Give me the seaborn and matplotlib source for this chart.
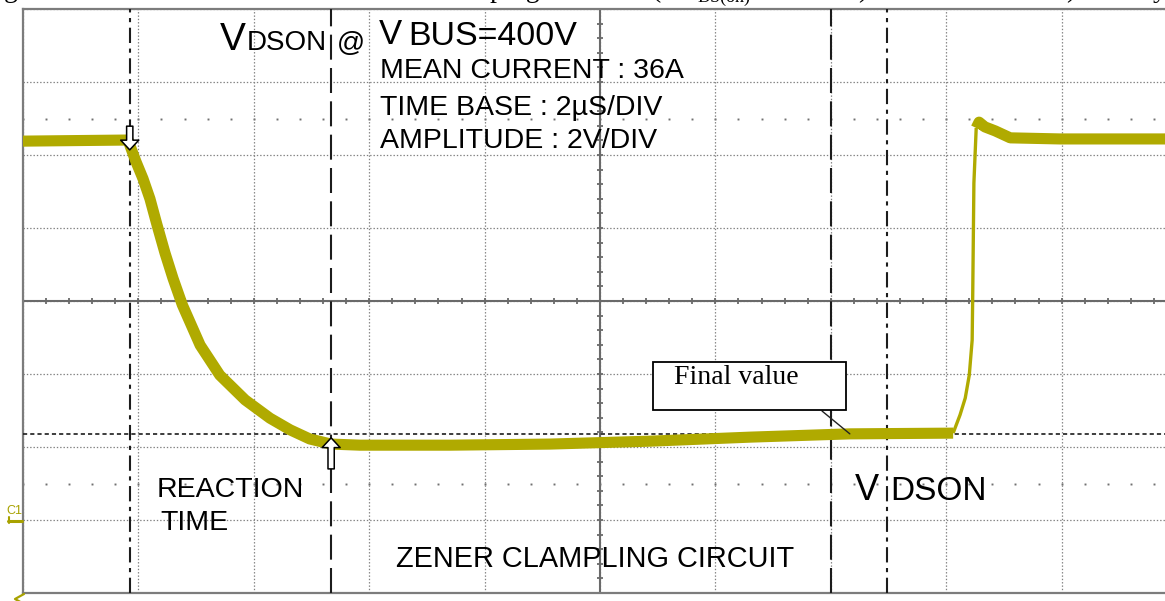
import numpy as np
import pandas as pd
import seaborn as sns
import matplotlib
matplotlib.use("Agg")
import matplotlib.pyplot as plt
from matplotlib.patches import Rectangle
from matplotlib.lines import Line2D

# Channel 1 capture of V_DS(on): time in microseconds, drain-source voltage in volts
time_us = [0.00, 1.82, 1.87, 1.96, 2.08, 2.20, 2.32, 2.46, 2.60, 2.76, 3.07, 3.41,
           3.85, 4.28, 4.63, 4.97, 5.34, 5.84, 7.40, 9.13, 10.87, 12.60, 14.33,
           16.12, 16.24, 16.33, 16.40, 16.45, 16.46, 16.48, 16.52, 16.57, 16.67,
           16.85, 17.11, 17.97, 19.99]
vds_volts = [10.38, 10.41, 10.19, 9.81, 9.35, 8.80, 8.10, 7.32, 6.62, 5.90, 4.79, 3.97,
             3.29, 2.79, 2.47, 2.22, 2.08, 2.05, 2.05, 2.08, 2.16, 2.27, 2.36,
             2.38, 2.88, 3.34, 3.97, 4.93, 6.22, 9.23, 10.74, 10.90, 10.77,
             10.66, 10.47, 10.44, 10.44]

# Switching edge of the turn-on transition (drawn thinner, as the scope does)
rise_start_us = 16.12
rise_end_us = 16.52

# Cursor positions and the measured final value
cursor_dashdot_us = [1.85, 14.97]
cursor_dash_us = [5.34, 14.00]
final_value_v = 2.36
final_value_at_us = 14.33

# Scope scale settings
time_per_div_us = 2.0
volts_per_div = 2.0
n_xdiv, n_ydiv = 10, 8
ground_div = -3  # channel 1 ground marker, divisions below centre

settings_text = ["MEAN CURRENT : 36A", "TIME BASE : 2\u00b5S/DIV", "AMPLITUDE : 2V/DIV"]

sns.set_style("white")
plt.rcParams["font.family"] = ["Liberation Sans", "DejaVu Sans"]
plt.rcParams["lines.scale_dashes"] = False

W, H = 1165, 601
fig = plt.figure(figsize=(W / 100, H / 100), dpi=100)
fig.patch.set_facecolor("white")


def fx(x):
    return x / W


def fy(y):
    return 1 - y / H


ax = fig.add_axes([23 / W, 8 / H, 1154 / W, 584 / H])
x_max = n_xdiv * time_per_div_us
y_min = -(n_ydiv / 2 + ground_div) * volts_per_div
y_max = y_min + n_ydiv * volts_per_div
ax.set_xlim(0, x_max)
ax.set_ylim(y_min, y_max)
x_mid = x_max / 2
y_mid = (y_min + y_max) / 2

# Graticule
ax.set_xticks(np.arange(0, x_max + 0.01, time_per_div_us))
ax.set_yticks(np.arange(y_min, y_max + 0.01, volts_per_div))
ax.tick_params(length=0, labelbottom=False, labelleft=False)
ax.grid(True, color="#808080", linestyle=(0, (1, 1.4)), linewidth=0.9)
for side in ["left", "bottom", "top"]:
    ax.spines[side].set_color("#7c7c7c")
    ax.spines[side].set_linewidth(1.6)
ax.spines["right"].set_visible(False)

ax.axvline(x_mid, color="#6a6a6a", lw=1.5, zorder=2)
ax.axhline(y_mid, color="#6a6a6a", lw=1.5, zorder=2)
minor_x = np.arange(0, x_max + 0.01, time_per_div_us / 5)
minor_y = np.arange(y_min, y_max + 0.01, volts_per_div / 5)
ax.plot(minor_x, np.full_like(minor_x, y_mid), ls="", marker="|", ms=5, mew=1.3,
        color="#6a6a6a", zorder=2)
ax.plot(np.full_like(minor_y, x_mid), minor_y, ls="", marker="_", ms=5, mew=1.3,
        color="#6a6a6a", zorder=2)
for yd in [y_mid + 2.5 * volts_per_div, y_mid - 2.5 * volts_per_div]:
    ax.plot(minor_x, np.full_like(minor_x, yd), ls="", marker="s", ms=1.4, mew=0,
            color="#707070", zorder=2)

# Cursors
for xc in cursor_dashdot_us:
    ax.axvline(xc, color="#1c1c1c", lw=1.5, ls=(0, (11, 4, 3, 4)), zorder=3)
for xc in cursor_dash_us:
    ax.axvline(xc, color="#1c1c1c", lw=1.5, ls=(0, (18, 6)), zorder=3)
ax.axhline(final_value_v, color="#1c1c1c", lw=1.2, ls=(0, (3, 2.2)), zorder=3)

# Waveform
df = pd.DataFrame({"t": time_us, "v": vds_volts})
trace_color = "#b0aa00"
before = df[df.t <= rise_start_us]
edge = df[(df.t >= rise_start_us) & (df.t <= rise_end_us)]
after = df[df.t >= rise_end_us]
for part, lw in [(before, 8.0), (edge, 2.4), (after, 8.0)]:
    sns.lineplot(data=part, x="t", y="v", ax=ax, sort=False, estimator=None,
                 color=trace_color, lw=lw, zorder=4, legend=False,
                 solid_joinstyle="round", solid_capstyle="butt")
ax.set_xlabel("")
ax.set_ylabel("")

# Hollow cursor arrows on the trace
arrow_style = "simple,head_length=7,head_width=13,tail_width=4.5"
ax.annotate("", xy=(cursor_dashdot_us[0], 10.14), xytext=(cursor_dashdot_us[0], 10.79),
            arrowprops=dict(arrowstyle=arrow_style, mutation_scale=1, fc="white",
                            ec="black", lw=1.1, shrinkA=0, shrinkB=0), zorder=6)
ax.annotate("", xy=(cursor_dash_us[0], 2.25), xytext=(cursor_dash_us[0], 1.40),
            arrowprops=dict(arrowstyle=arrow_style, mutation_scale=1, fc="white",
                            ec="black", lw=1.1, shrinkA=0, shrinkB=0), zorder=6)

# Screen annotations
txt = dict(color="black", va="baseline", ha="left")
fig.text(fx(220), fy(50), "V", fontsize=28, **txt)
fig.text(fx(247), fy(50), "DSON", fontsize=20, **txt)
fig.text(fx(337), fy(51), "@", fontsize=20, **txt)
fig.text(fx(379), fy(44), "V", fontsize=25, **txt)
fig.text(fx(408), fy(45), "BUS=400V", fontsize=24.5, **txt)
for line, yb in zip(settings_text, [78, 115, 148]):
    fig.text(fx(380), fy(yb), line, fontsize=20.5, **txt)
fig.text(fx(157), fy(497), "REACTION", fontsize=20.5, **txt)
fig.text(fx(160), fy(530), "TIME", fontsize=20.5, **txt)
fig.text(fx(396), fy(567), "ZENER CLAMPLING CIRCUIT", fontsize=20.8, **txt)
fig.text(fx(855), fy(500), "V", fontsize=26, **txt)
fig.text(fx(890), fy(500), "DSON", fontsize=24, **txt)

# Final value call-out box
fig.add_artist(Rectangle((fx(653), fy(410)), (846 - 653) / W, (410 - 362) / H,
                         transform=fig.transFigure, fc="white", ec="black", lw=1.3,
                         zorder=7))
fig.text(fx(674), fy(384), "Final value", fontsize=20, family="Liberation Serif",
         zorder=8, **txt)
ax.annotate("", xy=(final_value_at_us, final_value_v), xytext=(fx(822), fy(411)),
            textcoords="figure fraction",
            arrowprops=dict(arrowstyle="-", color="#222222", lw=1.0,
                            shrinkA=0, shrinkB=0), zorder=6)

# Channel 1 label and ground marker
olive = "#a8a200"
fig.text(fx(6), fy(514), "C1", fontsize=9, color=olive, va="baseline", ha="left")
fig.add_artist(Line2D([fx(8), fx(22)], [fy(520.5), fy(520.5)], color=olive, lw=2.2,
                      transform=fig.transFigure))
fig.add_artist(Line2D([fx(9), fx(9)], [fy(517), fy(523)], color=olive, lw=1.5,
                      transform=fig.transFigure))
fig.add_artist(Line2D([fx(24), fx(15), fx(24)], [fy(594), fy(599), fy(604)],
                      color=olive, lw=1.6, transform=fig.transFigure))

# Caption line of the page, cut at the top edge
cap = dict(fontsize=20, family="Liberation Serif", va="baseline", ha="left", color="black")
fig.text(fx(4), fy(-3), "g", **cap)
fig.text(fx(436), fy(-3), "clamping", **cap)
fig.text(fx(652), fy(-3), "(V", **cap)
fig.text(fx(698), fy(2), "DS(on)", fontsize=13, family="Liberation Serif", va="baseline",
         ha="left", color="black")
fig.text(fx(858), fy(-3), ")", **cap)
fig.text(fx(1066), fy(-3), ")", **cap)
fig.text(fx(1153), fy(-3), "y", **cap)

fig.savefig("out.png", dpi=100, facecolor="white")
